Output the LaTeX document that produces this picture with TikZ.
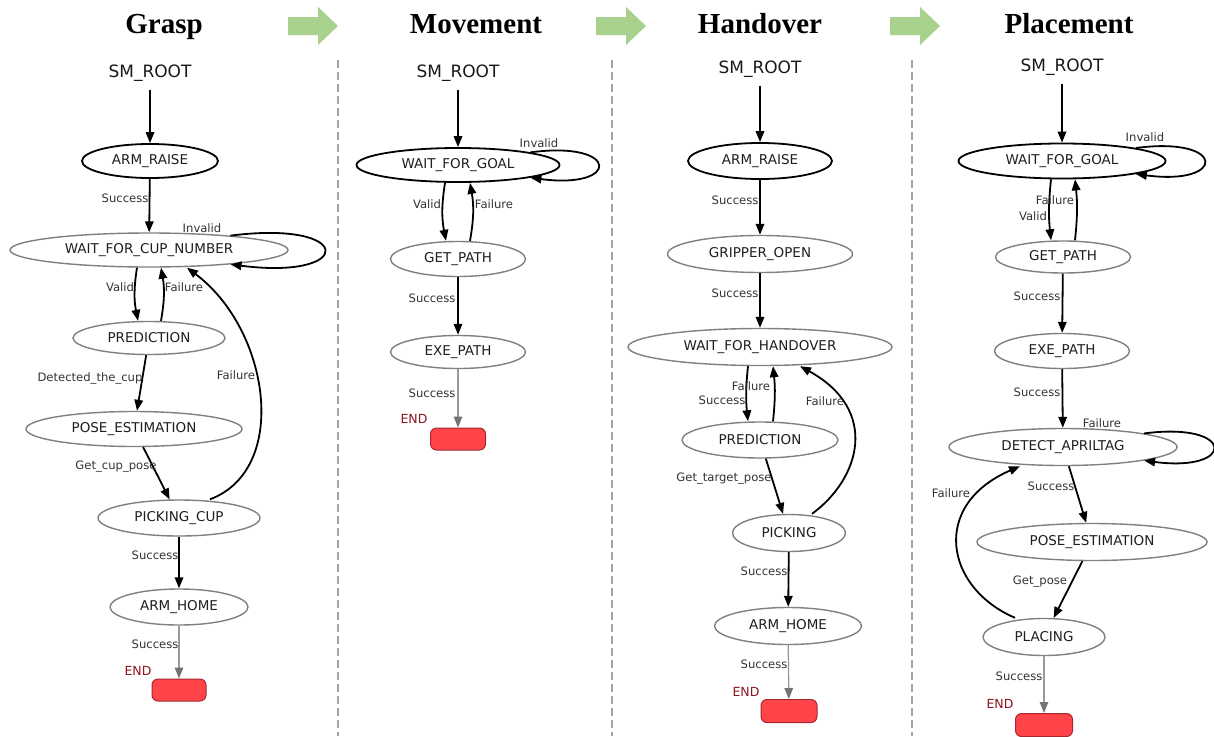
\documentclass[tikz,border=0pt]{standalone}
\usepackage{fontspec}
\setmainfont{DejaVu Sans}
\newfontfamily\titlefont{Liberation Serif}
\usetikzlibrary{shapes.geometric,arrows.meta}
\definecolor{smGreen}{RGB}{169,209,142}
\definecolor{smEndFill}{RGB}{255,68,74}
\definecolor{smEndDraw}{RGB}{165,40,48}
\definecolor{smEndText}{RGB}{140,22,32}
\definecolor{smGray}{RGB}{128,128,128}

\begin{document}
\begin{tikzpicture}[x=1pt,y=1pt,
    smstate/.style={ellipse,draw=smGray,line width=1.4pt,inner sep=0pt,text=black!88,font=\fontsize{13.5}{15}\selectfont},
    smfirst/.style={smstate,draw=black,line width=1.8pt},
    smroot/.style={inner sep=8pt,text=black!90,font=\fontsize{17}{19}\selectfont},
    smend/.style={rectangle,rounded corners=6pt,draw=smEndDraw,fill=smEndFill,line width=1pt},
    lbl/.style={inner sep=0pt,text=black!80,font=\fontsize{11.6}{13}\selectfont},
    endlbl/.style={lbl,text=smEndText,font=\fontsize{12.5}{14}\selectfont},
    trans/.style={line width=1.8pt,-{Triangle[length=11pt,width=8.5pt]}},
    lastt/.style={line width=1.3pt,draw=black!40,-{Triangle[length=11pt,width=8.5pt,color=black!55]}},
    divider/.style={draw=black!35,line width=2.4pt,dash pattern=on 8pt off 4pt},
    stagetitle/.style={anchor=base,font=\titlefont\bfseries\fontsize{29}{32}\selectfont}]
    \fill[white] (0,0) rectangle (1214,-736);
    \useasboundingbox (0,0) rectangle (1214,-736);

    % stage titles, arrows and dividers
    \node[stagetitle] (t_grasp) at (164,-33) {Grasp};
    \node[stagetitle] (t_move) at (476,-33) {Movement};
    \node[stagetitle] (t_hand) at (760,-33) {Handover};
    \node[stagetitle] (t_place) at (1069,-33) {Placement};
    \foreach \ax in {288,596,890}
        \fill[smGreen] (\ax,-17) -- ++(30,0) -- ++(0,10) -- (\ax+50,-26) -- (\ax+30,-45) -- ++(0,10) -- (\ax,-35) -- cycle;
    \foreach \sx in {338,612,912}
        \draw[divider] (\sx,-60) -- (\sx,-736);

    % Grasp
    \node[smroot] (g_root) at (150,-73) {SM\_ROOT};
    \node[smfirst,minimum width=136pt,minimum height=34pt] (g_raise) at (150,-161) {ARM\_RAISE};
    \node[smstate,minimum width=278pt,minimum height=34pt] (g_wcup) at (149,-250) {WAIT\_FOR\_CUP\_NUMBER};
    \node[smstate,minimum width=152pt,minimum height=33pt] (g_pred) at (149,-338) {PREDICTION};
    \node[smstate,minimum width=216pt,minimum height=35pt] (g_pose) at (134,-429) {POSE\_ESTIMATION};
    \node[smstate,minimum width=162pt,minimum height=36pt] (g_pcup) at (179,-518) {PICKING\_CUP};
    \node[smstate,minimum width=138pt,minimum height=36pt] (g_home) at (179,-607) {ARM\_HOME};
    \node[smend,minimum width=54pt,minimum height=22pt] (g_end) at (179,-690) {};
    \draw[trans] (g_root) -- (g_raise);
    \draw[trans] (g_raise) -- (g_wcup);
    \draw[trans] (g_wcup.10) .. controls +(125,16) and +(125,-16) .. (g_wcup.-10);
    \draw[trans] ([xshift=-12pt]g_wcup.south) to[bend right=10] ([xshift=-11pt]g_pred.north);
    \draw[trans] ([xshift=12pt]g_pred.north) to[bend right=10] ([xshift=12pt]g_wcup.south);
    \draw[trans] (g_pred) -- (g_pose);
    \draw[trans] (g_pose) -- (g_pcup);
    \draw[trans] ([xshift=31pt]g_pcup.north) .. controls +(80,30) and +(83,-62) .. ([xshift=38pt]g_wcup.south);
    \draw[trans] (g_pcup) -- (g_home);
    \draw[lastt] (g_home) -- (g_end);
    \node[lbl] (g_l1) at (125,-198) {Success};
    \node[lbl] (g_l2) at (202,-228) {Invalid};
    \node[lbl] (g_l3) at (120,-287) {Valid};
    \node[lbl] (g_l4) at (184,-287) {Failure};
    \node[lbl] (g_l5) at (90,-378) {Detected\_the\_cup};
    \node[lbl] (g_l6) at (236,-375) {Failure};
    \node[lbl] (g_l7) at (116,-467) {Get\_cup\_pose};
    \node[lbl] (g_l8) at (155,-555) {Success};
    \node[lbl] (g_l9) at (155,-644) {Success};
    \node[endlbl] (g_l10) at (138,-671) {END};

    % Movement
    \node[smroot] (m_root) at (458,-73) {SM\_ROOT};
    \node[smfirst,minimum width=203pt,minimum height=34pt] (m_wait) at (458,-165) {WAIT\_FOR\_GOAL};
    \node[smstate,minimum width=135pt,minimum height=35pt] (m_get) at (458,-259) {GET\_PATH};
    \node[smstate,minimum width=135pt,minimum height=33pt] (m_exe) at (458,-352) {EXE\_PATH};
    \node[smend,minimum width=55pt,minimum height=22pt] (m_end) at (458,-439) {};
    \draw[trans] (m_root) -- (m_wait);
    \draw[trans] (m_wait.north east) .. controls +(90,12) and +(90,-12) .. (m_wait.south east);
    \draw[trans] ([xshift=-13pt]m_wait.south) to[bend right=10] ([xshift=-12pt]m_get.north);
    \draw[trans] ([xshift=12pt]m_get.north) to[bend right=10] ([xshift=12pt]m_wait.south);
    \draw[trans] (m_get) -- (m_exe);
    \draw[lastt] (m_exe) -- (m_end);
    \node[lbl] (m_l1) at (539,-143) {Invalid};
    \node[lbl] (m_l2) at (427,-204) {Valid};
    \node[lbl] (m_l3) at (494,-204) {Failure};
    \node[lbl] (m_l4) at (432,-298) {Success};
    \node[lbl] (m_l5) at (432,-393) {Success};
    \node[endlbl] (m_l6) at (414,-419) {END};

    % Handover
    \node[smroot] (h_root) at (760,-69) {SM\_ROOT};
    \node[smfirst,minimum width=144pt,minimum height=36pt] (h_raise) at (760,-161) {ARM\_RAISE};
    \node[smstate,minimum width=185pt,minimum height=37pt] (h_grip) at (760,-254) {GRIPPER\_OPEN};
    \node[smstate,minimum width=264pt,minimum height=37pt] (h_wait) at (760,-347) {WAIT\_FOR\_HANDOVER};
    \node[smstate,minimum width=156pt,minimum height=36pt] (h_pred) at (760,-440) {PREDICTION};
    \node[smstate,minimum width=113pt,minimum height=37pt] (h_pick) at (789,-533) {PICKING};
    \node[smstate,minimum width=147pt,minimum height=37pt] (h_home) at (788,-626) {ARM\_HOME};
    \node[smend,minimum width=56pt,minimum height=23pt] (h_end) at (789,-711) {};
    \draw[trans] (h_root) -- (h_raise);
    \draw[trans] (h_raise) -- (h_grip);
    \draw[trans] (h_grip) -- (h_wait);
    \draw[trans] ([xshift=-12pt]h_wait.south) to[bend right=6] ([xshift=-12pt]h_pred.north);
    \draw[trans] ([xshift=13pt]h_pred.north) to[bend right=6] ([xshift=13pt]h_wait.south);
    \draw[trans] (h_pred) -- (h_pick);
    \draw[trans] ([xshift=23pt]h_pick.north) .. controls +(48,35) and +(80,-44) .. ([xshift=40pt]h_wait.south);
    \draw[trans] (h_pick) -- (h_home);
    \draw[lastt] (h_home) -- (h_end);
    \node[lbl] (h_l1) at (735,-200) {Success};
    \node[lbl] (h_l2) at (735,-293) {Success};
    \node[lbl] (h_l3) at (751,-386) {Failure};
    \node[lbl] (h_l4) at (722,-400) {Success};
    \node[lbl] (h_l5) at (825,-401) {Failure};
    \node[lbl] (h_l6) at (724,-479) {Get\_target\_pose};
    \node[lbl] (h_l7) at (764,-571) {Success};
    \node[lbl] (h_l8) at (764,-664) {Success};
    \node[endlbl] (h_l9) at (746,-692) {END};

    % Placement
    \node[smroot] (p_root) at (1062,-67) {SM\_ROOT};
    \node[smfirst,minimum width=207pt,minimum height=35pt] (p_wait) at (1062,-161) {WAIT\_FOR\_GOAL};
    \node[smstate,minimum width=135pt,minimum height=32pt] (p_get) at (1063,-257) {GET\_PATH};
    \node[smstate,minimum width=135pt,minimum height=35pt] (p_exe) at (1062,-351) {EXE\_PATH};
    \node[smstate,minimum width=228pt,minimum height=37pt] (p_det) at (1063,-447) {DETECT\_APRILTAG};
    \node[smstate,minimum width=230pt,minimum height=37pt] (p_pose) at (1092,-542) {POSE\_ESTIMATION};
    \node[smstate,minimum width=122pt,minimum height=37pt] (p_place) at (1044,-637) {PLACING};
    \node[smend,minimum width=57pt,minimum height=23pt] (p_end) at (1044,-725) {};
    \draw[trans] (p_root) -- (p_wait);
    \draw[trans] (p_wait.north east) .. controls +(91,12) and +(91,-12) .. (p_wait.south east);
    \draw[trans] ([xshift=-11pt]p_wait.south) to[bend right=6] ([xshift=-12pt]p_get.north);
    \draw[trans] ([xshift=12pt]p_get.north) to[bend right=6] ([xshift=13pt]p_wait.south);
    \draw[trans] (p_get) -- (p_exe);
    \draw[trans] (p_exe) -- (p_det);
    \draw[trans] (p_det.north east) .. controls +(92,12) and +(92,-12) .. (p_det.south east);
    \draw[trans] (p_det) -- (p_pose);
    \draw[trans] (p_pose) -- (p_place);
    \draw[trans] ([xshift=-29pt]p_place.north) .. controls +(-70,30) and +(-90,-39) .. ([xshift=-43pt]p_det.south);
    \draw[lastt] (p_place) -- (p_end);
    \node[lbl] (p_l1) at (1145,-137) {Invalid};
    \node[lbl] (p_l2) at (1055,-200) {Failure};
    \node[lbl] (p_l3) at (1033,-216) {Valid};
    \node[lbl] (p_l4) at (1037,-296) {Success};
    \node[lbl] (p_l5) at (1037,-392) {Success};
    \node[lbl] (p_l6) at (1102,-423) {Failure};
    \node[lbl] (p_l7) at (1051,-486) {Success};
    \node[lbl] (p_l8) at (951,-493) {Failure};
    \node[lbl] (p_l9) at (1040,-582) {Get\_pose};
    \node[lbl] (p_l10) at (1019,-676) {Success};
    \node[endlbl] (p_l11) at (1000,-704) {END};
\end{tikzpicture}
\end{document}
